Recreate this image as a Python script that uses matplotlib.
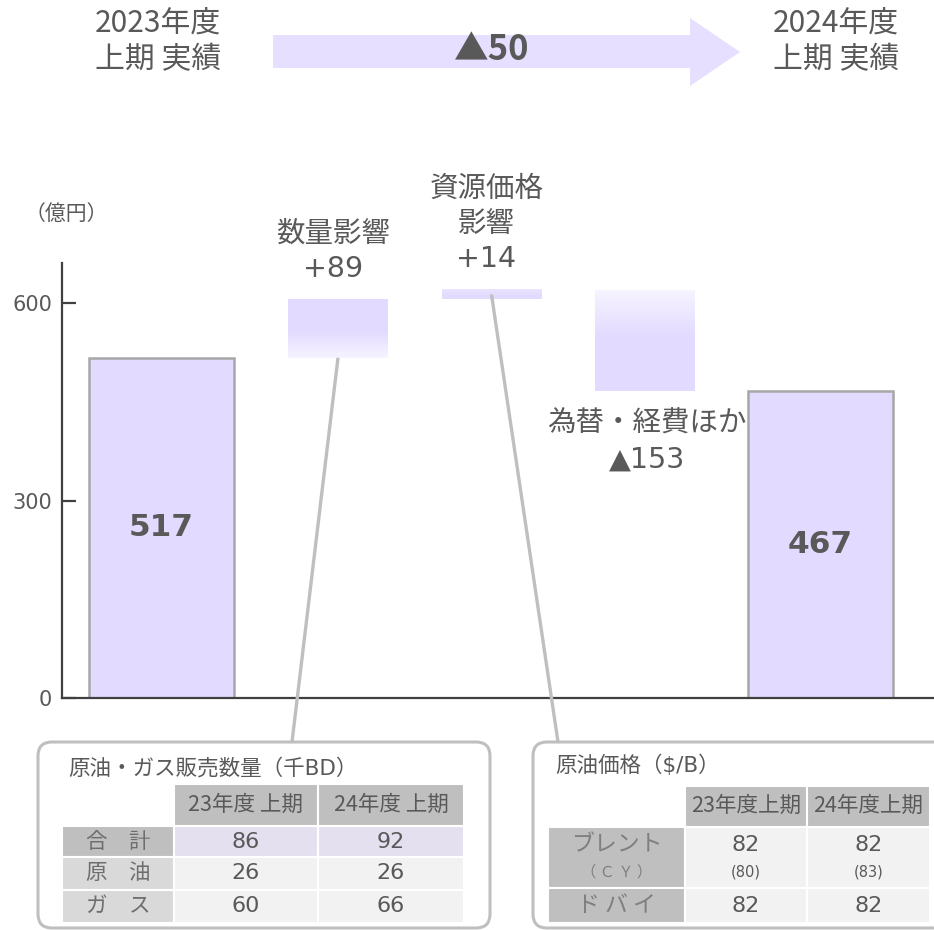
import numpy as np
import matplotlib.pyplot as plt
from matplotlib.patches import Rectangle, FancyBboxPatch, Polygon
from matplotlib.colors import to_rgb

plt.rcParams['font.family'] = ['DejaVu Sans', 'Noto Sans CJK JP']

# waterfall (億円)
start_label = '2023年度\n上期 実績'
end_label = '2024年度\n上期 実績'
start_value = 517
end_value = 467
total_change = -50
delta_names = ['数量影響', '資源価格\n影響', '為替・経費ほか']
delta_values = [89, 14, -153]
y_ticks = [0, 300, 600]
unit_label = '（億円）'

# sales volume table
vol_title = '原油・ガス販売数量（千BD）'
vol_cols = ['23年度 上期', '24年度 上期']
vol_rows = ['合　計', '原　油', 'ガ　ス']
vol_values = [[86, 92], [26, 26], [60, 66]]

# crude price table
px_title = '原油価格（$/B）'
px_cols = ['23年度上期', '24年度上期']
px_rows = ['ブレント', 'ド バ イ']
px_values = [[82, 82], [82, 82]]
cy_label = '（ Ｃ Ｙ ）'
cy_values = [80, 83]

TXT = '#595959'
BAR = '#E3DBFF'
EDGE = '#A6A6A6'
AXC = '#404040'
LINEC = '#BFBFBF'
JP = 'Noto Sans CJK JP'


def signed(v):
    return f'+{v}' if v > 0 else f'▲{abs(v)}'


fig = plt.figure(figsize=(9.34, 9.30), dpi=100)
W, H = 934, 930

# main waterfall axes, x measured in pixels from the y axis
ax = fig.add_axes([62 / W, (H - 698) / H, (W - 62) / W, (698 - 263) / H])
bar_x = [99.5, 276, 429.5, 583, 758.5]
bar_w = [145, 100, 100, 100, 145]
fades = ['bottom', 'top', 'top']

ax.bar(bar_x[0], start_value, bar_w[0], color=BAR, edgecolor=EDGE, lw=1.8, zorder=2)
ax.bar(bar_x[4], end_value, bar_w[4], color=BAR, edgecolor=EDGE, lw=1.8, zorder=2)
ax.text(bar_x[0], start_value / 2, str(start_value), ha='center', va='center',
        fontsize=22.5, fontweight='bold', color=TXT, zorder=3)
ax.text(bar_x[4], end_value / 2, str(end_value), ha='center', va='center',
        fontsize=22.5, fontweight='bold', color=TXT, zorder=3)

# floating bars with a soft gradient
base = np.array(to_rgb(BAR))
cum = start_value
spans = []
for i, d in enumerate(delta_values):
    x, w = bar_x[i + 1], bar_w[i + 1]
    y0, y1 = min(cum, cum + d), max(cum, cum + d)
    t = np.linspace(0, 1, 200)
    if fades[i] == 'bottom':
        a = np.clip(0.3 + t / 0.45 * 0.7, 0, 1)
    else:
        a = np.clip(0.3 + (1 - t) / 0.45 * 0.7, 0, 1)
        if d > 0:
            a = np.clip(0.75 + (1 - t) * 0.4, 0, 1)
    img = (1 - a[:, None]) * 1.0 + a[:, None] * base[None, :]
    img = img[:, None, :]
    ax.imshow(img, extent=[x - w / 2, x + w / 2, y0, y1], origin='lower',
              aspect='auto', interpolation='bilinear', zorder=2)
    label = f'{delta_names[i]}\n{signed(d)}'
    if d > 0:
        ax.annotate(label, xy=(x - 5, y1), xytext=(0, 12), textcoords='offset points',
                    ha='center', va='bottom', fontsize=20.5, color=TXT,
                    linespacing=1.32, annotation_clip=False)
    else:
        ax.annotate(label, xy=(x + 2, y0), xytext=(0, -14), textcoords='offset points',
                    ha='center', va='top', fontsize=20.5, color=TXT,
                    linespacing=1.32, annotation_clip=False)
    spans.append((x, y0, y1))
    cum += d

ax.set_xlim(0, W - 62)
ax.set_ylim(0, 661)
ax.set_yticks(y_ticks)
ax.set_xticks([])
for s in ['top', 'right']:
    ax.spines[s].set_visible(False)
for s in ['left', 'bottom']:
    ax.spines[s].set_color(AXC)
    ax.spines[s].set_linewidth(1.6)
ax.tick_params(axis='y', direction='in', length=10, width=1.6, color=AXC,
               labelsize=15, labelcolor=TXT, pad=7)
ax.patch.set_visible(False)

# overlay in pixel coordinates for banner, connectors and tables
ov = fig.add_axes([0, 0, 1, 1], zorder=5)
ov.set_xlim(0, W)
ov.set_ylim(H, 0)
ov.axis('off')
ov.patch.set_visible(False)

ov.text(66, 214, unit_label, ha='center', va='center', fontsize=15, color=TXT, family=JP)

# top banner
ov.add_patch(Polygon([(273, 35), (690, 35), (690, 18), (740, 52), (690, 86),
                      (690, 68), (273, 68)], closed=True, fc='#E6DFFF', ec='none'))
ov.text(158, 42, start_label, ha='center', va='center', fontsize=21.5, color=TXT,
        family=JP, linespacing=1.2)
ov.text(836, 42, end_label, ha='center', va='center', fontsize=21.5, color=TXT,
        family=JP, linespacing=1.2)
ov.text(492, 50, signed(total_change), ha='center', va='center', fontsize=25,
        fontweight='bold', color=TXT, family=JP)


def to_px(x, y):
    d = ax.transData.transform((x, y))
    return ov.transData.inverted().transform(d)


# connectors from bars to the tables
x2, b2, t2 = spans[0]
x3, b3, t3 = spans[1]
p1 = to_px(x2, b2)
p2 = to_px(x3, (b3 + t3) / 2)
ov.plot([p1[0], 292], [p1[1], 742], color=LINEC, lw=2.4, solid_capstyle='butt')
ov.plot([p2[0], 558], [p2[1], 742], color=LINEC, lw=2.4, solid_capstyle='butt')

# table frames
ov.add_patch(FancyBboxPatch((38, 742), 452, 186, boxstyle='round,pad=0,rounding_size=14',
                            fc='white', ec=LINEC, lw=2.2))
ov.add_patch(FancyBboxPatch((533, 742), 460, 186, boxstyle='round,pad=0,rounding_size=14',
                            fc='white', ec=LINEC, lw=2.2))


def cell(x0, x1, y0, y1, fc):
    ov.add_patch(Rectangle((x0, y0), x1 - x0, y1 - y0, fc=fc, ec='white', lw=1.5))


# volume table
ov.text(68, 768, vol_title, ha='left', va='center', fontsize=15.5, color=TXT)
cx = [62, 173.5, 318, 464]
ry = [784, 826, 857, 889.5, 923]
for j, c in enumerate(vol_cols):
    cell(cx[j + 1], cx[j + 2], ry[0], ry[1], '#BFBFBF')
    ov.text((cx[j + 1] + cx[j + 2]) / 2, (ry[0] + ry[1]) / 2, c, ha='center',
            va='center', fontsize=15.5, color=TXT, family=JP)
for i, r in enumerate(vol_rows):
    cell(cx[0], cx[1], ry[i + 1], ry[i + 2], '#BFBFBF' if i == 0 else '#D9D9D9')
    ov.text((cx[0] + cx[1]) / 2, (ry[i + 1] + ry[i + 2]) / 2, r, ha='center',
            va='center', fontsize=15.5, color='#6E6E6E', family=JP)
    for j, v in enumerate(vol_values[i]):
        cell(cx[j + 1], cx[j + 2], ry[i + 1], ry[i + 2], '#E4E0EF' if i == 0 else '#F2F2F2')
        ov.text((cx[j + 1] + cx[j + 2]) / 2, (ry[i + 1] + ry[i + 2]) / 2, str(v),
                ha='center', va='center', fontsize=16, color=TXT)

# crude price table
ov.text(555, 765, px_title, ha='left', va='center', fontsize=15.5, color=TXT)
cx = [548, 685, 806.5, 930]
ry = [786, 826.5, 888, 923]
for j, c in enumerate(px_cols):
    cell(cx[j + 1], cx[j + 2], ry[0], ry[1], '#BFBFBF')
    ov.text((cx[j + 1] + cx[j + 2]) / 2, (ry[0] + ry[1]) / 2, c, ha='center',
            va='center', fontsize=15.5, color=TXT, family=JP)
for i, r in enumerate(px_rows):
    cell(cx[0], cx[1], ry[i + 1], ry[i + 2], '#BFBFBF')
    for j in range(2):
        cell(cx[j + 1], cx[j + 2], ry[i + 1], ry[i + 2], '#F2F2F2')

mid = [(cx[k] + cx[k + 1]) / 2 for k in range(3)]
ov.text(mid[0], 845, px_rows[0], ha='center', va='center', fontsize=16.5,
        color='#7F7F7F', family=JP)
ov.text(mid[0], 872, cy_label, ha='center', va='center', fontsize=11,
        color='#7F7F7F', family=JP)
ov.text(mid[0], (ry[2] + ry[3]) / 2, px_rows[1], ha='center', va='center',
        fontsize=16.5, color='#7F7F7F', family=JP)
for j in range(2):
    ov.text(mid[j + 1], 845, str(px_values[0][j]), ha='center', va='center',
            fontsize=16, color=TXT)
    ov.text(mid[j + 1], 872, f'({cy_values[j]})', ha='center', va='center',
            fontsize=10.5, color=TXT)
    ov.text(mid[j + 1], (ry[2] + ry[3]) / 2, str(px_values[1][j]), ha='center',
            va='center', fontsize=16, color=TXT)

fig.savefig('out.png', dpi=100)
